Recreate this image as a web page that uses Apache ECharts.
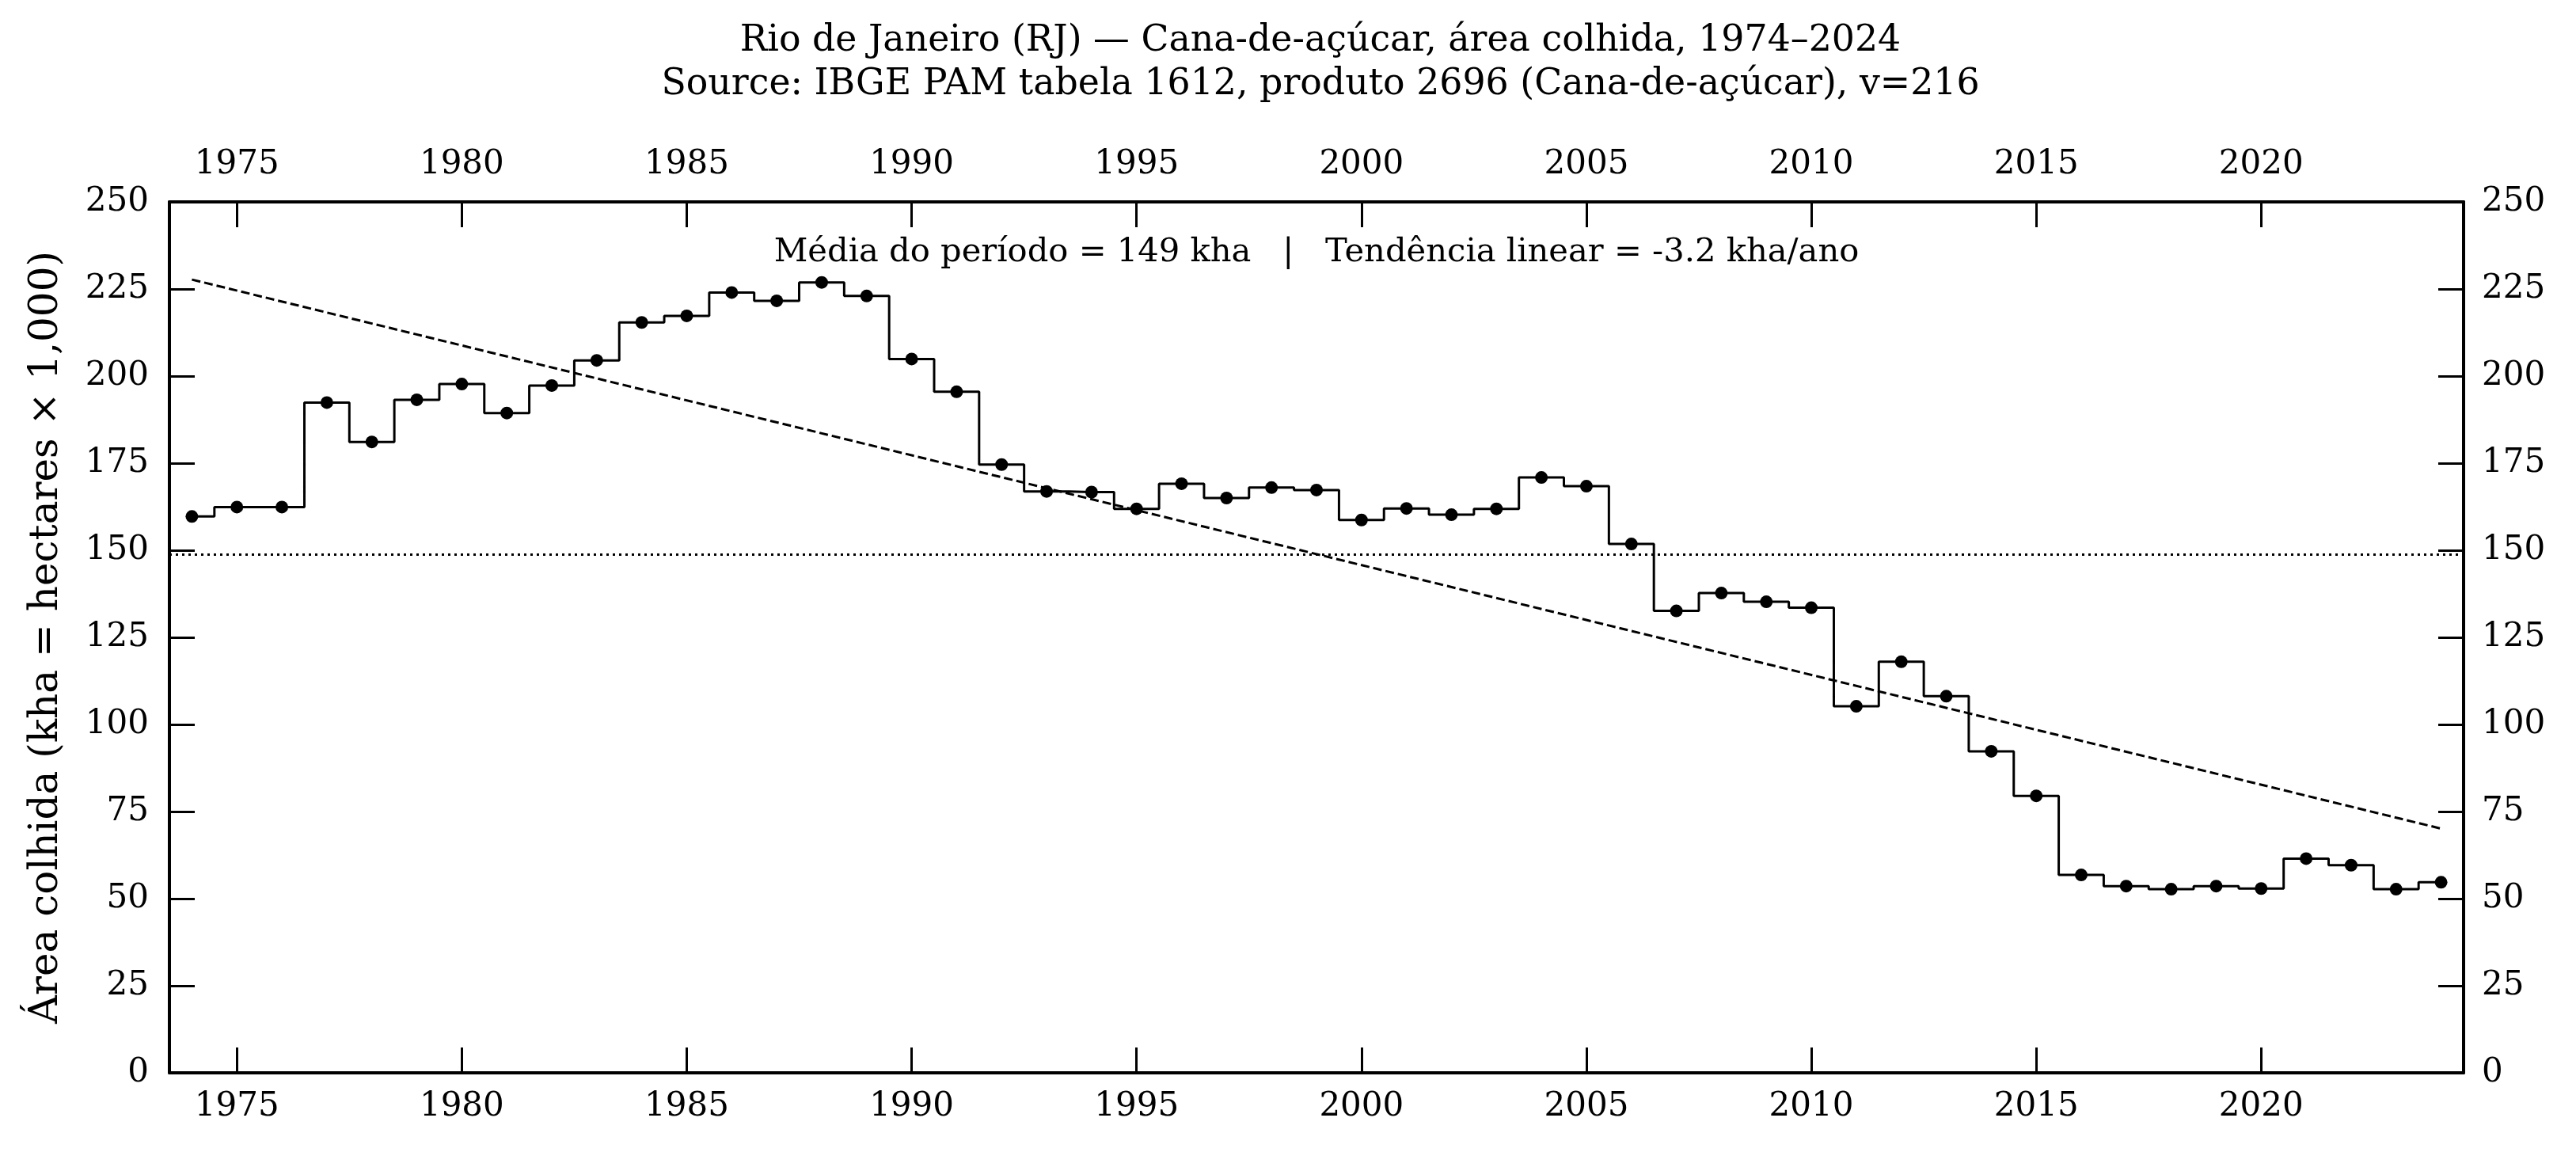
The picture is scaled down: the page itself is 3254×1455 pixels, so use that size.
<!DOCTYPE html>
<html>
<head>
<meta charset="utf-8">
<script src="https://cdn.jsdelivr.net/npm/echarts@6.0.0/dist/echarts.min.js"></script>
<style>
    html, body { margin: 0; padding: 0; background: #fff; }
    #chart { width: 3254px; height: 1455px; }
</style>
</head>
<body>
<div id="chart"></div>
<script>
// values (kha)
var years = [1974, 1975, 1976, 1977, 1978, 1979, 1980, 1981, 1982, 1983,
    1984, 1985, 1986, 1987, 1988, 1989, 1990, 1991, 1992, 1993,
    1994, 1995, 1996, 1997, 1998, 1999, 2000, 2001, 2002, 2003,
    2004, 2005, 2006, 2007, 2008, 2009, 2010, 2011, 2012, 2013,
    2014, 2015, 2016, 2017, 2018, 2019, 2020, 2021, 2022, 2023, 2024];
var areaKha = [159.7, 162.4, 162.4, 192.4, 181.1, 193.2, 197.7, 189.4, 197.3, 204.5,
    215.4, 217.3, 224.0, 221.6, 226.9, 223.0, 204.9, 195.5, 174.6, 166.9,
    166.7, 161.9, 169.1, 165.0, 168.0, 167.3, 158.7, 162.0, 160.2, 161.9,
    170.9, 168.4, 151.8, 132.6, 137.7, 135.2, 133.5, 105.2, 118.0, 108.1,
    92.3, 79.5, 56.8, 53.6, 52.7, 53.6, 52.9, 61.5, 59.6, 52.7, 54.7];
var xTicks = [1975, 1980, 1985, 1990, 1995, 2000, 2005, 2010, 2015, 2020];
var meanKha = 148.7;
var trendYears = [1974, 2024];
var trendKha = [227.7, 70.1];

var titleLine1 = 'Rio de Janeiro (RJ) \u2014 Cana-de-a\u00e7\u00facar, \u00e1rea colhida, 1974\u20132024';
var titleLine2 = 'Source: IBGE PAM tabela 1612, produto 2696 (Cana-de-a\u00e7\u00facar), v=216';
var noteText = 'M\u00e9dia do per\u00edodo = 149 kha   |   Tend\u00eancia linear = -3.2 kha/ano';
var yName = '\u00c1rea colhida (kha = hectares \u00d7 1,000)';

var FONT = 'DejaVu Serif';
var gridL = 214, gridR = 142, gridT = 255, gridB = 100;
var plotMid = gridL + (3254 - gridL - gridR) / 2;

function xAxisCfg(pos, margin) {
    return {
        type: 'value',
        position: pos,
        min: 1973.5,
        max: 2024.5,
        axisLine: { show: true, onZero: false, lineStyle: { color: '#000', width: 4 } },
        axisTick: { show: true, inside: true, length: 32, customValues: xTicks, lineStyle: { color: '#000', width: 3 } },
        axisLabel: {
            show: true, margin: margin, customValues: xTicks, color: '#000', fontFamily: FONT, fontSize: 42,
            formatter: function (v) { return String(v); }
        },
        splitLine: { show: false }
    };
}

function yAxisCfg(pos, margin) {
    return {
        type: 'value',
        position: pos,
        min: 0,
        max: 250,
        interval: 25,
        axisLine: { show: true, lineStyle: { color: '#000', width: 4 } },
        axisTick: { show: true, inside: true, length: 32, lineStyle: { color: '#000', width: 3 } },
        axisLabel: { show: true, margin: margin, color: '#000', fontFamily: FONT, fontSize: 42 },
        splitLine: { show: false }
    };
}

var stepData = [];
for (let i = 0; i < years.length; i++) {
    stepData.push([years[i], areaKha[i]]);
}
var trendData = [];
for (let i = 0; i < trendYears.length; i++) {
    trendData.push([trendYears[i], trendKha[i]]);
}

var yLeft = yAxisCfg('left', 26);
yLeft.name = yName;
yLeft.nameLocation = 'middle';
yLeft.nameRotate = 90;
yLeft.nameGap = 130;
yLeft.nameTextStyle = { color: '#000', fontFamily: FONT, fontSize: 50 };

var myChart = echarts.init(document.getElementById('chart'), null, { renderer: 'canvas' });
var option = {
    animation: false,
    backgroundColor: '#fff',
    title: {
        text: titleLine1 + '\n' + titleLine2,
        left: plotMid,
        textAlign: 'center',
        top: 20,
        textStyle: { color: '#000', fontFamily: FONT, fontSize: 45.8, fontWeight: 'normal', lineHeight: 55 }
    },
    grid: { left: gridL, right: gridR, top: gridT, bottom: gridB, containLabel: false },
    xAxis: [xAxisCfg('bottom', 22), xAxisCfg('top', 26)],
    yAxis: [yLeft, yAxisCfg('right', 23)],
    graphic: [{
        type: 'text',
        x: plotMid,
        y: 319,
        style: { text: noteText, fill: '#000', font: '41.67px "DejaVu Serif"', textAlign: 'center', textVerticalAlign: 'middle' }
    }],
    series: [
        {
            name: 'trend',
            type: 'line',
            xAxisIndex: 0,
            yAxisIndex: 0,
            data: trendData,
            symbol: 'none',
            lineStyle: { color: '#000', width: 3, type: [11, 5] },
            z: 2
        },
        {
            name: 'area',
            type: 'line',
            xAxisIndex: 0,
            yAxisIndex: 0,
            step: 'middle',
            data: stepData,
            symbol: 'circle',
            symbolSize: 16,
            showAllSymbol: true,
            itemStyle: { color: '#000' },
            lineStyle: { color: '#000', width: 3 },
            markLine: {
                silent: true,
                symbol: 'none',
                label: { show: false },
                lineStyle: { color: '#000', width: 3, type: [3, 5] },
                data: [{ yAxis: meanKha }]
            },
            z: 3
        }
    ]
};
myChart.setOption(option);
</script>
</body>
</html>
